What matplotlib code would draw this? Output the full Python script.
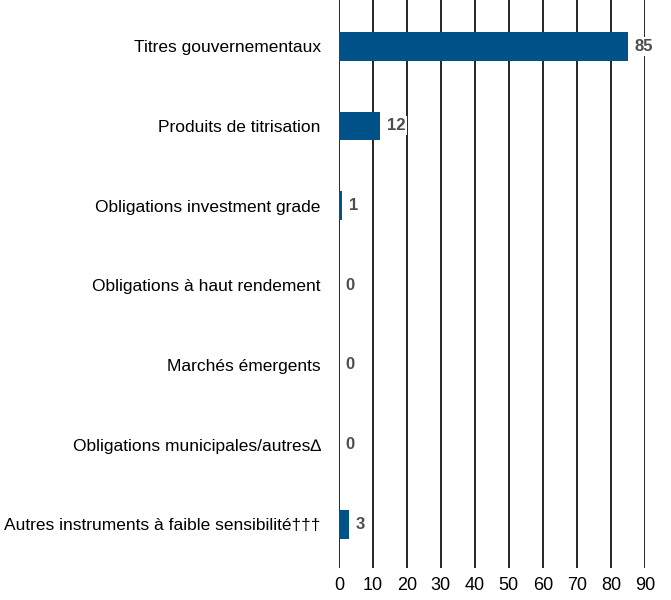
import matplotlib.pyplot as plt

plt.rcParams['font.family'] = ['Liberation Sans', 'DejaVu Sans']

categories = [
    "Titres gouvernementaux",
    "Produits de titrisation",
    "Obligations investment grade",
    "Obligations à haut rendement",
    "Marchés émergents",
    "Obligations municipales/autres∆",
    "Autres instruments à faible sensibilité†††",
]
values = [85, 12, 1, 0, 0, 0, 3]
ticks = [0, 10, 20, 30, 40, 50, 60, 70, 80, 90]

# set up chart
fig = plt.figure(figsize=(6.71, 6), dpi=100)
ax = fig.add_axes([0.505, 0.053, 0.456, 0.947])

ypos = list(range(len(categories)))
ax.barh(ypos, values, height=0.36, color="#005288", zorder=2)

# value labels on white boxes
for y, v in zip(ypos, values):
    ax.annotate(str(v), (v, y), xytext=(5, 0), textcoords="offset points",
                va="center", ha="left", fontsize=12, fontweight="bold",
                color="#4d4d4d", zorder=3,
                bbox=dict(facecolor="white", edgecolor="none", pad=1.5))

# axes formatting
ax.set_xlim(0, 90)
ax.set_ylim(len(categories) - 0.45, -0.58)
ax.set_xticks(ticks)
ax.set_yticks(ypos)
ax.set_yticklabels(categories, fontsize=12.5)
ax.tick_params(axis="y", length=0, pad=13)
ax.tick_params(axis="x", length=0, pad=6, labelsize=13)
ax.grid(axis="x", color="black", linewidth=1.2, zorder=1)
ax.set_axisbelow(True)
for s in ax.spines.values():
    s.set_visible(False)

fig.savefig("out.png", dpi=100)
